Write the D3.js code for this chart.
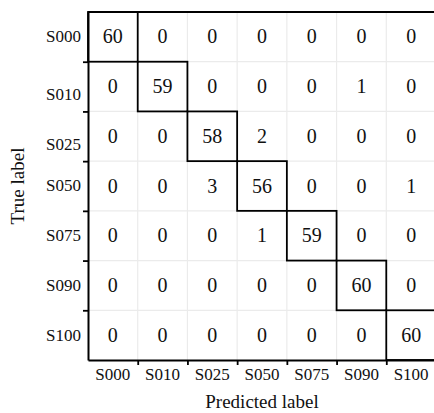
<!DOCTYPE html>
<html>
<head>
<meta charset="utf-8">
<script src="https://cdn.jsdelivr.net/npm/d3@7/dist/d3.min.js"></script>
<style>
  html, body { margin: 0; padding: 0; background: #fff; }
  svg { display: block; }
</style>
</head>
<body>
<svg id="chart" width="434" height="413"></svg>
<script>
// Class labels (same order on both axes)
const labels = ["S000", "S010", "S025", "S050", "S075", "S090", "S100"];

// Counts per true label (row), one value per predicted label (column)
const rowS000 = [60, 0, 0, 0, 0, 0, 0];
const rowS010 = [0, 59, 0, 0, 0, 1, 0];
const rowS025 = [0, 0, 58, 2, 0, 0, 0];
const rowS050 = [0, 0, 3, 56, 0, 0, 1];
const rowS075 = [0, 0, 0, 1, 59, 0, 0];
const rowS090 = [0, 0, 0, 0, 0, 60, 0];
const rowS100 = [0, 0, 0, 0, 0, 0, 60];

const matrix = [rowS000, rowS010, rowS025, rowS050, rowS075, rowS090, rowS100];

const SERIF = "'Liberation Serif', 'Times New Roman', Times, serif";
const INK = "#111";

const svg = d3.select("#chart");
const plot = { left: 88, right: 436, top: 12, bottom: 360 };

const x = d3.scaleBand().domain(labels).range([plot.left, plot.right]).padding(0);
const y = d3.scaleBand().domain(labels).range([plot.top, plot.bottom]).padding(0);

// Continuous position scales used for ticks and grid lines on cell boundaries
const xPos = d3.scaleLinear().domain([0, labels.length]).range([plot.left, plot.right]);
const yPos = d3.scaleLinear().domain([0, labels.length]).range([plot.top, plot.bottom]);
const bounds = d3.range(1, labels.length);

// Light grid on cell boundaries
const grid = svg.append("g").attr("stroke", "#ebebeb").attr("stroke-width", 1.2);
grid.selectAll("line.v").data(bounds).join("line")
  .attr("class", "v")
  .attr("x1", d => xPos(d)).attr("x2", d => xPos(d))
  .attr("y1", plot.top).attr("y2", plot.bottom);
grid.selectAll("line.h").data(bounds).join("line")
  .attr("class", "h")
  .attr("y1", d => yPos(d)).attr("y2", d => yPos(d))
  .attr("x1", plot.left).attr("x2", plot.right);

// Cell counts
const cells = matrix.flatMap((row, i) => row.map((v, j) => ({ t: labels[i], p: labels[j], v })));
svg.append("g").selectAll("text").data(cells).join("text")
  .attr("x", d => x(d.p) + x.bandwidth() / 2)
  .attr("y", d => y(d.t) + y.bandwidth() / 2)
  .attr("text-anchor", "middle")
  .attr("dy", "0.33em")
  .style("font-family", SERIF)
  .style("font-size", "20px")
  .style("fill", INK)
  .text(d => d.v);

// Boxes around the diagonal (correct predictions)
svg.append("g").selectAll("rect").data(labels).join("rect")
  .attr("x", d => x(d))
  .attr("y", d => y(d))
  .attr("width", x.bandwidth())
  .attr("height", y.bandwidth())
  .attr("fill", "none")
  .attr("stroke", "#000")
  .attr("stroke-width", 1.8);

// Top border
svg.append("line")
  .attr("x1", plot.left).attr("x2", plot.right)
  .attr("y1", plot.top).attr("y2", plot.top)
  .attr("stroke", "#000").attr("stroke-width", 1.8);

// Axis tick marks on cell boundaries
const leftTicks = svg.append("g").attr("transform", `translate(${plot.left},0)`)
  .call(d3.axisLeft(yPos).tickValues(bounds).tickFormat("").tickSize(5).tickSizeOuter(0));
const bottomTicks = svg.append("g").attr("transform", `translate(0,${plot.bottom})`)
  .call(d3.axisBottom(xPos).tickValues(bounds).tickFormat("").tickSize(5).tickSizeOuter(0));
[leftTicks, bottomTicks].forEach(g => {
  g.selectAll("path.domain").attr("stroke", "#000").attr("stroke-width", 2);
  g.selectAll(".tick line").attr("stroke", "#000").attr("stroke-width", 1.8);
});

// Category labels centred on the cells
const leftLabelShift = { S010: 8, S025: 8 };
const leftLabels = svg.append("g").attr("transform", `translate(${plot.left},0)`)
  .call(d3.axisLeft(y).tickSize(0).tickPadding(7));
leftLabels.select("path.domain").remove();
leftLabels.selectAll(".tick text")
  .style("font-family", SERIF)
  .style("font-size", "17px")
  .style("fill", INK)
  .attr("dy", "0.32em")
  .attr("transform", d => `translate(0,${leftLabelShift[d] || 0})`);

const bottomLabels = svg.append("g").attr("transform", `translate(0,${plot.bottom})`)
  .call(d3.axisBottom(x).tickSize(0).tickPadding(8));
bottomLabels.select("path.domain").remove();
bottomLabels.selectAll(".tick text")
  .style("font-family", SERIF)
  .style("font-size", "17px")
  .style("fill", INK);

// Axis titles
svg.append("text")
  .attr("x", (plot.left + plot.right) / 2)
  .attr("y", 402)
  .attr("text-anchor", "middle")
  .attr("dy", "0.3em")
  .style("font-family", SERIF)
  .style("font-size", "19px")
  .style("fill", INK)
  .text("Predicted label");

svg.append("text")
  .attr("transform", `translate(18,${(plot.top + plot.bottom) / 2}) rotate(-90)`)
  .attr("text-anchor", "middle")
  .attr("dy", "0.33em")
  .style("font-family", SERIF)
  .style("font-size", "19px")
  .style("fill", INK)
  .text("True label");
</script>
</body>
</html>
